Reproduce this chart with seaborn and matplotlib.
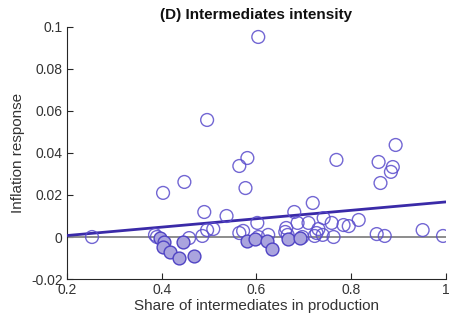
import matplotlib
matplotlib.use("Agg")
import matplotlib.pyplot as plt
import seaborn as sns
import pandas as pd

# Hollow markers (positive / insignificant responses)
hollow_x = [0.253, 0.386, 0.390, 0.458, 0.486, 0.496, 0.509, 0.490, 0.537, 0.564,
            0.572, 0.602, 0.604, 0.625, 0.403, 0.448, 0.496, 0.604, 0.564, 0.581,
            0.577, 0.680, 0.719, 0.687, 0.710, 0.661, 0.663, 0.666, 0.697, 0.723,
            0.727, 0.731, 0.740, 0.742, 0.759, 0.763, 0.784, 0.795, 0.816, 0.769,
            0.858, 0.888, 0.884, 0.862, 0.894, 0.854, 0.871, 0.951, 0.994]
hollow_y = [0.0, 0.001, 0.0, -0.0005, 0.0005, 0.0033, 0.0038, 0.0119, 0.010, 0.0019,
            0.0029, 0.0067, 0.0, 0.001, 0.021, 0.0262, 0.0557, 0.0952, 0.0338, 0.0376,
            0.0233, 0.0119, 0.0162, 0.0067, 0.0067, 0.0024, 0.0043, 0.001, 0.0, 0.0005,
            0.0019, 0.0038, 0.001, 0.009, 0.0067, 0.0, 0.0057, 0.0052, 0.0081, 0.0367,
            0.0357, 0.0333, 0.031, 0.0257, 0.0438, 0.0014, 0.0005, 0.0033, 0.0005]

# Filled markers (negative responses)
filled_x = [0.397, 0.405, 0.403, 0.418, 0.437, 0.446, 0.469, 0.581, 0.598, 0.623,
            0.632, 0.666, 0.693]
filled_y = [-0.0005, -0.0024, -0.0048, -0.0071, -0.010, -0.0024, -0.009, -0.0019,
            -0.001, -0.0019, -0.0057, -0.001, -0.0005]

# Fitted line endpoints
fit_x = [0.2, 1.0]
fit_y = [0.0007, 0.0167]

xticks = [0.2, 0.4, 0.6, 0.8, 1.0]
xtick_labels = ["0.2", "0.4", "0.6", "0.8", "1"]
yticks = [-0.02, 0, 0.02, 0.04, 0.06, 0.08, 0.1]
ytick_labels = ["-0.02", "0", "0.02", "0.04", "0.06", "0.08", "0.1"]

sns.set_style("white")
plt.rcParams['font.family'] = ['Liberation Sans', 'DejaVu Sans']

fig = plt.figure(figsize=(4.49, 3.2), dpi=100)
ax = fig.add_axes([0.149, 0.128, 0.844, 0.788])

ax.axhline(0, color='#8c8c8c', lw=1.4, zorder=1)

df_h = pd.DataFrame({"x": hollow_x, "y": hollow_y})
df_f = pd.DataFrame({"x": filled_x, "y": filled_y})
df_l = pd.DataFrame({"x": fit_x, "y": fit_y})

sns.lineplot(data=df_l, x="x", y="y", ax=ax, color='#3a2aa8', lw=2.0, zorder=3)
sns.scatterplot(data=df_h, x="x", y="y", ax=ax, s=85, facecolors='none',
                edgecolor='#5a4ccc', linewidth=1.0, alpha=0.85, zorder=4)
sns.scatterplot(data=df_f, x="x", y="y", ax=ax, s=85, color='#aaa4de',
                edgecolor='#4f43c4', linewidth=1.0, zorder=5)

ax.set_xlim(0.2, 1.0)
ax.set_ylim(-0.02, 0.1)
ax.set_xticks(xticks)
ax.set_xticklabels(xtick_labels)
ax.set_yticks(yticks)
ax.set_yticklabels(ytick_labels)
ax.tick_params(direction='in', length=4, width=0.8, colors='#262626',
               labelsize=10, labelcolor='#333333', pad=3,
               bottom=True, left=True, top=False, right=False)
for s in ['top', 'right']:
    ax.spines[s].set_visible(False)
for s in ['left', 'bottom']:
    ax.spines[s].set_color('#262626')
    ax.spines[s].set_linewidth(0.8)

ax.set_xlabel("Share of intermediates in production", fontsize=11,
              color='#333333', labelpad=1)
ax.set_ylabel("Inflation response", fontsize=11, color='#333333', labelpad=4)
ax.set_title("(D) Intermediates intensity", fontsize=11, fontweight='bold',
             color='#111111', pad=6)

fig.savefig("out.png", dpi=100)
